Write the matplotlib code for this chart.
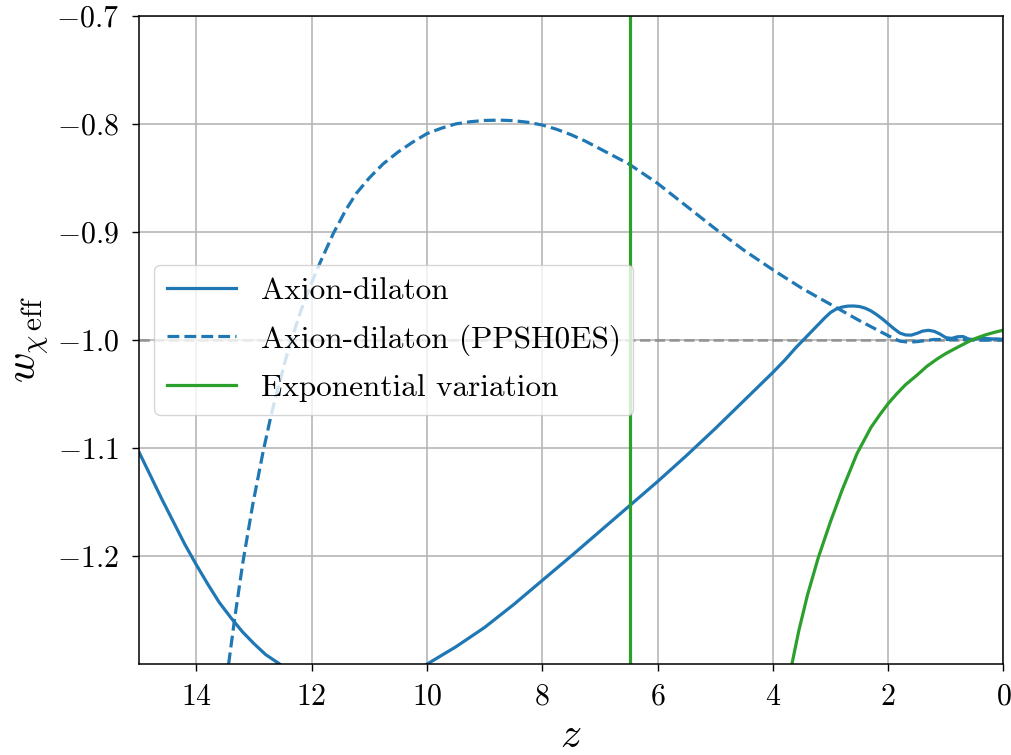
import numpy as np
from matplotlib import pyplot as plt

# Axion-dilaton (solid), two visible pieces separated by NaN
z_ad = [15.0, 14.8, 14.6, 14.4, 14.2, 14.0, 13.8, 13.6, 13.4, 13.2, 13.0, 12.8, 12.55,
        np.nan,
        10.0, 9.75, 9.5, 9.25, 9.0, 8.5, 8.0, 7.5, 7.0, 6.5, 6.0, 5.5, 5.0, 4.5,
        4.0, 3.8, 3.6, 3.4, 3.2, 3.1, 3.0, 2.9, 2.8, 2.7, 2.6, 2.5, 2.4, 2.3,
        2.2, 2.1, 2.0, 1.9, 1.8, 1.7, 1.6, 1.5, 1.4, 1.3, 1.2, 1.1, 1.0, 0.9,
        0.8, 0.7, 0.6, 0.5, 0.4, 0.3, 0.2, 0.1, 0.0]
w_ad = [-1.103, -1.125, -1.147, -1.168, -1.189, -1.208, -1.226, -1.243, -1.257,
        -1.270, -1.281, -1.291, -1.300,
        np.nan,
        -1.300, -1.292, -1.284, -1.275, -1.266, -1.245, -1.2225, -1.200, -1.177,
        -1.154, -1.131, -1.107, -1.082, -1.056, -1.030, -1.019, -1.007, -0.996,
        -0.985, -0.9795, -0.9745, -0.9713, -0.9695, -0.9686, -0.9685, -0.969,
        -0.9705, -0.973, -0.9765, -0.9805, -0.985, -0.9895, -0.9935, -0.9953,
        -0.9955, -0.9938, -0.9917, -0.991, -0.992, -0.9945, -0.9978, -0.9985,
        -0.997, -0.9968, -0.9992, -0.9995, -0.998, -0.9985, -0.999, -0.999, -0.9995]

# Axion-dilaton (PPSH0ES), dashed
z_pp = [13.44, 13.33, 13.19, 13.02, 12.84, 12.7, 12.6, 12.4, 12.2, 12.0, 11.85,
        11.62, 11.4, 11.22, 11.0, 10.76, 10.5, 10.25, 10.0, 9.75, 9.5, 9.25,
        9.0, 8.75, 8.5, 8.25, 8.0, 7.75, 7.5, 7.25, 7.0, 6.75, 6.5, 6.25, 6.0,
        5.5, 5.0, 4.5, 4.0, 3.5, 3.0, 2.5, 2.0, 1.8, 1.65, 1.5, 1.2, 0.8, 0.4, 0.0]
w_pp = [-1.300, -1.256, -1.205, -1.152, -1.103, -1.069, -1.048, -1.008, -0.975,
        -0.947, -0.928, -0.901, -0.879, -0.864, -0.850, -0.837, -0.826, -0.817,
        -0.809, -0.804, -0.800, -0.798, -0.7968, -0.7965, -0.797, -0.7985,
        -0.801, -0.805, -0.810, -0.816, -0.823, -0.830, -0.837, -0.846, -0.855,
        -0.876, -0.897, -0.917, -0.935, -0.952, -0.967, -0.982, -0.996, -1.001,
        -1.002, -1.0015, -0.9995, -0.9995, -1.0, -1.0]

# Exponential variation
z_ex = [3.67, 3.55, 3.4, 3.21, 3.0, 2.8, 2.67, 2.54, 2.3, 2.15, 2.0, 1.85, 1.7,
        1.5, 1.33, 1.15, 1.0, 0.8, 0.575, 0.45, 0.3, 0.15, 0.0]
w_ex = [-1.300, -1.269, -1.236, -1.201, -1.168, -1.139, -1.122, -1.105, -1.081,
        -1.0695, -1.0588, -1.0497, -1.0414, -1.0325, -1.0244, -1.0175, -1.0125,
        -1.0068, -1.0006, -0.9978, -0.995, -0.9928, -0.9908]
z_exp_line = 6.47

plt.rcParams["font.family"] = "serif"
plt.rcParams["font.serif"] = ["cmr10"]
plt.rcParams["mathtext.fontset"] = "cm"
plt.rcParams["axes.formatter.use_mathtext"] = True
plt.rcParams["axes.unicode_minus"] = True

fig = plt.figure(figsize=(10.12, 7.55), dpi=100)
ax = fig.add_axes([0.137, 0.121, 0.8546, 0.858])

blue = "tab:blue"
green = "tab:green"
ax.plot(z_ad, w_ad, color=blue, lw=2.3, label="Axion-dilaton")
ax.plot(z_pp, w_pp, color=blue, lw=2.3, ls="--", label="Axion-dilaton (PPSH0ES)")
ax.plot(z_ex, w_ex, color=green, lw=2.3, label="Exponential variation")
ax.axvline(z_exp_line, color=green, lw=2.3)
ax.axhline(-1.0, color="gray", lw=2, ls="--", alpha=0.7, zorder=1)

ax.set_xlim(15, 0)
ax.set_ylim(-1.2995, -0.7)
ax.set_xticks([14, 12, 10, 8, 6, 4, 2, 0])
ax.set_yticks([-1.2, -1.1, -1.0, -0.9, -0.8, -0.7])
ax.grid(True, color="#b0b0b0", lw=1.1)
ax.set_axisbelow(True)
ax.tick_params(labelsize=21.5, length=5, width=1, pad=9)
for s in ax.spines.values():
    s.set_linewidth(1.1)

ax.set_xlabel(r"$z$", fontsize=30, labelpad=5)
ax.set_ylabel(r"$w_{\chi\,\mathrm{eff}}$", fontsize=30, labelpad=4)

ax.legend(loc="center left", fontsize=22.5, framealpha=0.8,
          bbox_to_anchor=(0.0, 0.5), handlelength=2.2, labelspacing=0.6)

fig.savefig("out.png", dpi=100)
